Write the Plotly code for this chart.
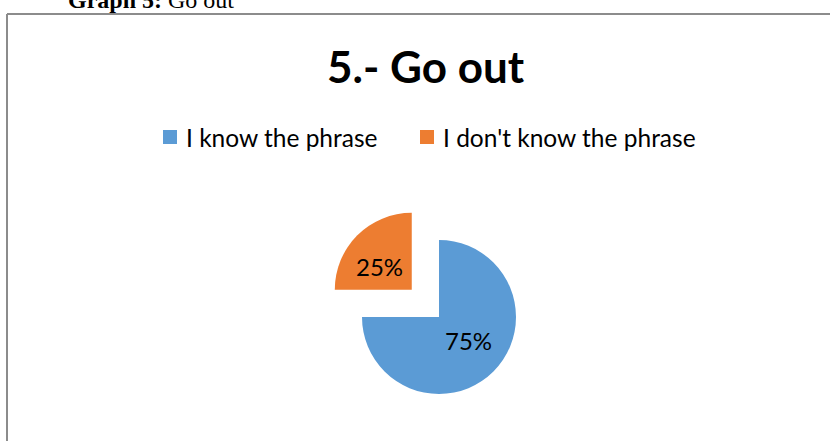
import plotly.graph_objects as go

# Survey answers for phrase 5
labels = ["I know the phrase", "I don't know the phrase"]
values = [75, 25]
colors = ["#5B9BD5", "#ED7D31"]
pulls = [0, 0.5]

# label anchor points (px) for each slice's percentage
label_pos = [(468.5, 340), (379.5, 266.5)]
# legend entry positions (px): marker left edge
legend_x = [163, 420]
legend_y = 137

W, H = 830, 441


def px(x):
    return x / W


def py(y):
    return 1 - y / H


fig = go.Figure()
fig.add_trace(go.Pie(
    labels=labels,
    values=values,
    sort=False,
    direction="clockwise",
    rotation=0,
    pull=pulls,
    marker=dict(colors=colors, line=dict(width=0)),
    textinfo="none",
    domain=dict(x=[px(323.5), px(554.5)], y=[py(432.5), py(201.5)]),
    hoverinfo="label+percent",
    showlegend=False,
))

total = sum(values)
for v, (lx, ly) in zip(values, label_pos):
    fig.add_annotation(
        text=f"{v / total * 100:.0f}%", xref="paper", yref="paper",
        x=px(lx), y=py(ly), xanchor="center", yanchor="middle", showarrow=False,
        font=dict(family="Lato", size=24, color="black"),
    )

# legend: colour squares with labels
for lab, col, lx in zip(labels, colors, legend_x):
    fig.add_shape(type="rect", xref="paper", yref="paper",
                  x0=px(lx), x1=px(lx + 14), y0=py(legend_y + 7), y1=py(legend_y - 7),
                  fillcolor=col, line=dict(width=0))
    fig.add_annotation(
        text=lab, xref="paper", yref="paper",
        x=px(lx + 21), y=py(legend_y), xanchor="left", yanchor="middle", showarrow=False,
        font=dict(family="Lato", size=24.5, color="black"),
    )

# chart frame (left and top edges)
frame = dict(color="#8c8c8c", width=2)
fig.add_shape(type="line", xref="paper", yref="paper",
              x0=px(7), x1=px(7), y0=py(14), y1=py(441), line=frame)
fig.add_shape(type="line", xref="paper", yref="paper",
              x0=px(7), x1=px(830), y0=py(14), y1=py(14), line=frame)

# caption above the frame
fig.add_annotation(
    text="<b>Graph 5:</b> Go out", xref="paper", yref="paper",
    x=px(66), y=py(0), xanchor="left", yanchor="middle", showarrow=False,
    font=dict(family="Liberation Serif", size=24, color="black"),
)

# chart title
fig.add_annotation(
    text="<b>5.- Go out</b>", xref="paper", yref="paper",
    x=px(426), y=py(66), xanchor="center", yanchor="middle", showarrow=False,
    font=dict(family="Lato", size=44, color="black"),
)

fig.update_layout(
    width=W, height=H,
    margin=dict(l=0, r=0, t=0, b=0),
    paper_bgcolor="white", plot_bgcolor="white",
    showlegend=False,
)

fig.write_html("out.html")
